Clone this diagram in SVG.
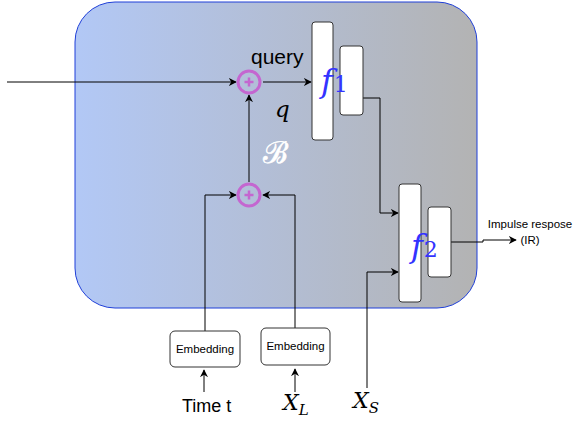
<svg xmlns="http://www.w3.org/2000/svg" width="576" height="435" viewBox="0 0 576 435">
<defs>
<linearGradient id="bg" x1="0" y1="0" x2="1" y2="0">
<stop offset="0" stop-color="#b2c8f6"/>
<stop offset="1" stop-color="#b3b3b3"/>
</linearGradient>
<marker id="arr" viewBox="0 0 10 10" refX="9" refY="5" markerWidth="8" markerHeight="8" orient="auto" markerUnits="userSpaceOnUse">
<path d="M0,0 L10,5 L0,10 L3,5 Z" fill="#000"/>
</marker>
<style>
.box{fill:#fff;stroke:#333;stroke-width:1}
.sum{fill:none;stroke:#c466d0;stroke-width:3}
.plus{stroke:#c466d0;stroke-width:2.5}
.line{fill:none;stroke:#000;stroke-width:1}
.sans{font-family:"Liberation Sans",Arial,sans-serif}
.math{font-family:"DejaVu Serif","Liberation Serif",serif;font-style:italic}
.fl{fill:#3333ff}
</style>
</defs>
<g id="container">
<rect x="75" y="2" width="402" height="306" rx="40" ry="40" fill="url(#bg)" stroke="#1f3fd8" stroke-width="1"/>
</g>
<g id="connectors">
<path class="line" d="M7,82 L236,82" marker-end="url(#arr)"/>
<path class="line" d="M263,82 L311,82" marker-end="url(#arr)" stroke="#333"/>
<path class="line" d="M249,182 L249,95" marker-end="url(#arr)"/>
<path class="line" d="M205,331 L205,195 L236,195" marker-end="url(#arr)"/>
<path class="line" d="M295,328 L295,195 L263,195" marker-end="url(#arr)"/>
<path class="line" d="M363,98 L380,98 L380,213 L398,213" marker-end="url(#arr)"/>
<path class="line" d="M367,388 L367,272 L398,272" marker-end="url(#arr)"/>
<path class="line" d="M451,242 L483,242 L483,240 L516,240" marker-end="url(#arr)"/>
<path class="line" d="M204,392 L204,370" marker-end="url(#arr)"/>
<path class="line" d="M295,392 L295,369" marker-end="url(#arr)"/>
</g>
<g id="sum1">
<circle class="sum" cx="249" cy="82" r="11"/>
<path class="plus" d="M244.5,82 H253.5 M249,77.5 V86.5"/>
</g>
<g id="sum2">
<circle class="sum" cx="249" cy="195" r="11"/>
<path class="plus" d="M244.5,195 H253.5 M249,190.5 V199.5"/>
</g>
<g id="f1">
<rect class="box" x="312" y="22" width="21" height="118" rx="3"/>
<rect class="box" x="340" y="46" width="23" height="69" rx="3"/>
<text class="math fl" x="321" y="92" font-size="32">f<tspan font-style="normal" font-size="22" dx="1">1</tspan></text>
</g>
<g id="f2">
<rect class="box" x="399" y="184" width="22" height="118" rx="3"/>
<rect class="box" x="428" y="207" width="23" height="70" rx="3"/>
<text class="math fl" x="411" y="257" font-size="32">f<tspan font-style="normal" font-size="22" dx="1">2</tspan></text>
</g>
<g id="embedding1">
<rect class="box" x="170" y="331" width="70" height="36" rx="5"/>
<text class="sans" x="205" y="353" font-size="11.5" text-anchor="middle">Embedding</text>
</g>
<g id="embedding2">
<rect class="box" x="261" y="328" width="69" height="37" rx="5"/>
<text class="sans" x="295.5" y="350" font-size="11.5" text-anchor="middle">Embedding</text>
</g>
<g id="labels">
<text class="sans" x="251" y="64" font-size="21">query</text>
<text class="math" x="275" y="117" font-size="23">q</text>
<text x="263" y="163" font-size="30" fill="#fff" stroke="#fff" stroke-width="0.6" font-family="'DejaVu Serif','Liberation Serif',serif">ℬ</text>
<text class="sans" x="182" y="412" font-size="18">Time t</text>
<text class="math" x="283" y="410" font-size="22">X<tspan font-size="15" dy="5">L</tspan></text>
<text class="math" x="353" y="408" font-size="22">X<tspan font-size="15" dy="5">S</tspan></text>
<text class="sans" x="530" y="228" font-size="11.5" text-anchor="middle">Impulse respose</text>
<text class="sans" x="530" y="244" font-size="11.5" text-anchor="middle">(IR)</text>
</g>
</svg>
